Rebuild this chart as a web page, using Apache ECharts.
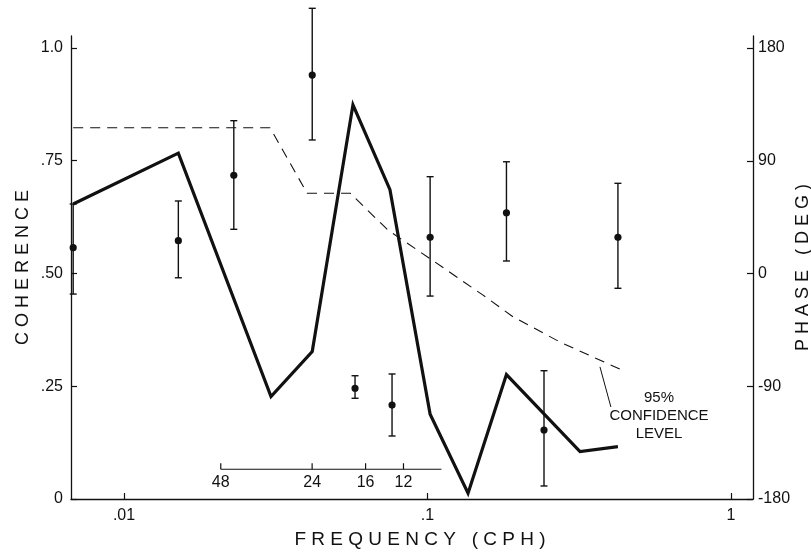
<!DOCTYPE html>
<html>
<head>
<meta charset="utf-8">
<script src="https://cdn.jsdelivr.net/npm/echarts@6/dist/echarts.min.js"></script>
<style>
  html, body { margin: 0; padding: 0; background: #fff; }
  #chart { width: 811px; height: 552px; }
</style>
</head>
<body>
<div id="chart"></div>
<script>
  // coherence (heavy solid line)
  const cohFreq = [0.0068, 0.0151, 0.0305, 0.0417, 0.0568, 0.0752, 0.102, 0.136, 0.182, 0.318, 0.424];
  const coherence = [0.654, 0.767, 0.227, 0.327, 0.874, 0.686, 0.188, 0.013, 0.276, 0.105, 0.116];

  // 95% confidence level (dashed)
  const confFreq = [0.0068, 0.0303, 0.0401, 0.0556, 0.0741, 0.1019, 0.1524, 0.1913, 0.2733, 0.4373];
  const confidence = [0.823, 0.823, 0.678, 0.678, 0.596, 0.533, 0.452, 0.404, 0.348, 0.286];

  // phase in degrees with error bars (right axis)
  const phaseFreq = [0.0068, 0.0151, 0.023, 0.0417, 0.0577, 0.0764, 0.102, 0.182, 0.242, 0.424];
  const phase = [20.6, 26.2, 78.4, 158.4, -91.6, -105, 28.9, 48.5, -124.9, 28.9];
  const phaseLow = [-16.4, -3.4, 35.3, 106.6, -99.6, -129.7, -18, 10, -169.6, -11.8];
  const phaseHigh = [55.5, 57.9, 122, 211.7, -81.6, -80.2, 77.3, 89.2, -77.6, 72];

  // period scale (hours) drawn inside the plot
  const periods = [48, 24, 16, 12];
  const periodEnd = 9;
  const periodLevel = 0.066;

  // leader line from the dashed curve to its label
  const leaderFreq = [0.370, 0.402];
  const leaderCoh = [0.293, 0.204];

  const xTicks = [0.01, 0.1, 1];
  const xTickLabels = ['.01', '.1', '1'];
  const cohTicks = [0, 0.25, 0.5, 0.75, 1];
  const cohTickLabels = ['0', '.25', '.50', '.75', '1.0'];
  const phaseTicks = [-180, -90, 0, 90, 180];

  const ink = '#111';
  const font = 'Liberation Sans';

  const chart = echarts.init(document.getElementById('chart'));

  const zip = (a, b) => a.map((v, i) => [v, b[i]]);

  chart.setOption({
    animation: false,
    backgroundColor: '#fff',
    grid: { left: 71, right: 58, top: 36, bottom: 53, containLabel: false, outerBoundsMode: 'none' },
    xAxis: {
      type: 'log',
      logBase: 10,
      min: 0.006688,
      max: 1.1815,
      name: 'F R E Q U E N C Y   ( C P H )',
      nameLocation: 'middle',
      nameGap: 31,
      nameMoveOverlap: false,
      nameTextStyle: { color: ink, fontSize: 19, fontFamily: font, padding: [0, 0, 0, 16] },
      axisLine: { show: true, lineStyle: { color: ink, width: 1.3 } },
      axisTick: { show: true, inside: true, length: 6, lineStyle: { color: ink, width: 1.2 } },
      splitLine: { show: false },
      minorTick: { show: false },
      axisLabel: {
        color: ink, fontSize: 16, fontFamily: font, margin: 9,
        showMinLabel: false, showMaxLabel: false,
        formatter: v => {
          const i = xTicks.findIndex(t => Math.abs(Math.log10(v) - Math.log10(t)) < 1e-6);
          return i < 0 ? '' : xTickLabels[i];
        }
      }
    },
    yAxis: [
      {
        type: 'value',
        min: 0,
        max: 1.0266,
        name: 'C O H E R E N C E',
        nameLocation: 'middle',
        nameRotate: 90,
        nameGap: 39,
        nameMoveOverlap: false,
        nameTextStyle: { color: ink, fontSize: 18, fontFamily: font },
        axisLine: { show: true, lineStyle: { color: ink, width: 1.3 } },
        axisTick: { show: true, inside: true, length: 6, customValues: cohTicks, lineStyle: { color: ink, width: 1.2 } },
        axisLabel: {
          color: ink, fontSize: 16, fontFamily: font, margin: 8,
          customValues: cohTicks,
          formatter: v => cohTickLabels[cohTicks.findIndex(t => Math.abs(t - v) < 1e-9)] || ''
        },
        splitLine: { show: false }
      },
      {
        type: 'value',
        position: 'right',
        min: -180,
        max: 189.6,
        name: 'P H A S E   ( D E G )',
        nameLocation: 'middle',
        nameRotate: 90,
        nameGap: 41,
        nameMoveOverlap: false,
        nameTextStyle: { color: ink, fontSize: 18, fontFamily: font },
        axisLine: { show: true, lineStyle: { color: ink, width: 1.3 } },
        axisTick: { show: true, inside: true, length: 6, customValues: phaseTicks, lineStyle: { color: ink, width: 1.2 } },
        axisLabel: { color: ink, fontSize: 16, fontFamily: font, margin: 5, customValues: phaseTicks },
        splitLine: { show: false }
      }
    ],
    graphic: [
      {
        type: 'text',
        x: 659,
        y: 416,
        style: {
          text: '95%\nCONFIDENCE\nLEVEL',
          align: 'center',
          verticalAlign: 'middle',
          lineHeight: 18,
          fill: ink,
          font: '15px "Liberation Sans"'
        }
      }
    ],
    series: [
      {
        name: 'coherence',
        type: 'line',
        data: zip(cohFreq, coherence),
        symbol: 'none',
        lineStyle: { color: ink, width: 3.2, join: 'miter' },
        z: 5
      },
      {
        name: '95% confidence',
        type: 'line',
        data: zip(confFreq, confidence),
        symbol: 'none',
        lineStyle: { color: ink, width: 1.1, type: [10, 7] }
      },
      {
        name: 'leader',
        type: 'line',
        data: zip(leaderFreq, leaderCoh),
        symbol: 'none',
        lineStyle: { color: ink, width: 1 }
      },
      {
        name: 'phase',
        type: 'custom',
        yAxisIndex: 1,
        clip: false,
        data: phaseFreq.map((f, i) => [f, phaseLow[i], phaseHigh[i], phase[i]]),
        encode: { x: 0, y: [1, 2, 3] },
        renderItem: (params, api) => {
          const f = api.value(0);
          const lo = api.coord([f, api.value(1)]);
          const hi = api.coord([f, api.value(2)]);
          const mid = api.coord([f, api.value(3)]);
          const cap = 3.5;
          const st = { stroke: ink, lineWidth: 1.4 };
          return {
            type: 'group',
            children: [
              { type: 'line', shape: { x1: lo[0], y1: lo[1], x2: hi[0], y2: hi[1] }, style: st },
              { type: 'line', shape: { x1: lo[0] - cap, y1: lo[1], x2: lo[0] + cap, y2: lo[1] }, style: st },
              { type: 'line', shape: { x1: hi[0] - cap, y1: hi[1], x2: hi[0] + cap, y2: hi[1] }, style: st },
              { type: 'circle', shape: { cx: mid[0], cy: mid[1], r: 3.6 }, style: { fill: ink } }
            ]
          };
        },
        z: 6
      },
      {
        name: 'period axis',
        type: 'line',
        data: [[1 / periods[0], periodLevel], [1 / periodEnd, periodLevel]],
        symbol: 'none',
        lineStyle: { color: ink, width: 1.2 }
      },
      {
        name: 'period ticks',
        type: 'custom',
        clip: false,
        data: periods.map(p => [1 / p, periodLevel, p]),
        encode: { x: 0, y: 1 },
        renderItem: (params, api) => {
          const pt = api.coord([api.value(0), api.value(1)]);
          return {
            type: 'group',
            children: [
              { type: 'line', shape: { x1: pt[0], y1: pt[1], x2: pt[0], y2: pt[1] - 6 }, style: { stroke: ink, lineWidth: 1.2 } },
              {
                type: 'text',
                style: {
                  text: String(api.value(2)),
                  x: pt[0], y: pt[1] + 5,
                  align: 'center', verticalAlign: 'top',
                  fill: ink, font: '16px "Liberation Sans"'
                }
              }
            ]
          };
        }
      }
    ]
  });
</script>
</body>
</html>
